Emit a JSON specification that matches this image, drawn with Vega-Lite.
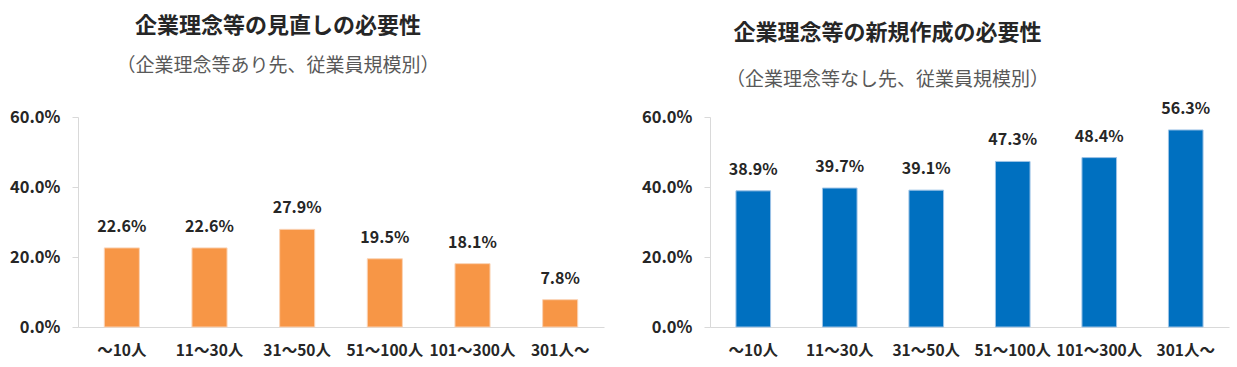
{
  "$schema": "https://vega.github.io/schema/vega-lite/v6.json",
  "bounds": "flush",
  "spacing": 106,
  "padding": {"left": 9, "top": 15, "right": 5, "bottom": 5},
  "datasets": {
    "review": [
      {"size": "～10人", "value": 0.226},
      {"size": "11～30人", "value": 0.226},
      {"size": "31～50人", "value": 0.279},
      {"size": "51～100人", "value": 0.195},
      {"size": "101～300人", "value": 0.181},
      {"size": "301人～", "value": 0.078}
    ],
    "create": [
      {"size": "～10人", "value": 0.389},
      {"size": "11～30人", "value": 0.397},
      {"size": "31～50人", "value": 0.391},
      {"size": "51～100人", "value": 0.473},
      {"size": "101～300人", "value": 0.484},
      {"size": "301人～", "value": 0.563}
    ]
  },
  "config": {
    "view": {"stroke": null},
    "font": "Noto Sans CJK JP",
    "axis": {
      "domainColor": "#d9d9d9",
      "tickColor": "#d9d9d9",
      "labelFont": "Noto Sans CJK JP",
      "labelFontWeight": "bold",
      "labelColor": "#262626",
      "grid": false,
      "title": null
    },
    "title": {
      "font": "Noto Sans CJK JP",
      "fontSize": 22,
      "fontWeight": "bold",
      "color": "#262626",
      "subtitleFont": "Noto Sans CJK JP",
      "subtitleFontSize": 19,
      "subtitleColor": "#595959",
      "subtitleFontWeight": "normal",
      "anchor": "middle"
    }
  },
  "hconcat": [
    {
      "width": 526,
      "height": 210,
      "title": {"text": "企業理念等の見直しの必要性", "subtitle": "（企業理念等あり先、従業員規模別）", "dx": -63, "offset": 32, "subtitlePadding": 19},
      "data": {"name": "review"},
      "encoding": {
        "x": {
          "field": "size", "type": "nominal", "sort": null,
          "scale": {"paddingInner": 0.6, "paddingOuter": 0.3},
          "axis": {"labelAngle": 0, "ticks": false, "labelFontSize": 15.5, "labelPadding": 16}
        },
        "y": {
          "field": "value", "type": "quantitative",
          "scale": {"domain": [0, 0.6]},
          "axis": {"values": [0, 0.2, 0.4, 0.6], "format": ".1%", "labelFontSize": 16.5, "tickSize": 6, "labelPadding": 12}
        }
      },
      "layer": [
        {"mark": {"type": "bar", "color": "#F79646", "stroke": "#FAD3B5", "strokeWidth": 1}},
        {
          "mark": {"type": "text", "baseline": "alphabetic", "dy": -16, "fontSize": 16, "fontWeight": "bold", "color": "#262626"},
          "encoding": {"text": {"field": "value", "format": ".1%"}}
        }
      ]
    },
    {
      "width": 519,
      "height": 210,
      "title": {"text": "企業理念等の新規作成の必要性", "subtitle": "（企業理念等なし先、従業員規模別）", "dx": -82, "offset": 10, "subtitlePadding": 26},
      "data": {"name": "create"},
      "encoding": {
        "x": {
          "field": "size", "type": "nominal", "sort": null,
          "scale": {"paddingInner": 0.6, "paddingOuter": 0.3},
          "axis": {"labelAngle": 0, "ticks": false, "labelFontSize": 15.5, "labelPadding": 16}
        },
        "y": {
          "field": "value", "type": "quantitative",
          "scale": {"domain": [0, 0.6]},
          "axis": {"values": [0, 0.2, 0.4, 0.6], "format": ".1%", "labelFontSize": 16.5, "tickSize": 6, "labelPadding": 12}
        }
      },
      "layer": [
        {"mark": {"type": "bar", "color": "#0070C0", "stroke": "#9DC3E6", "strokeWidth": 1}},
        {
          "mark": {"type": "text", "baseline": "alphabetic", "dy": -16, "fontSize": 16, "fontWeight": "bold", "color": "#262626"},
          "encoding": {"text": {"field": "value", "format": ".1%"}}
        }
      ]
    }
  ]
}
